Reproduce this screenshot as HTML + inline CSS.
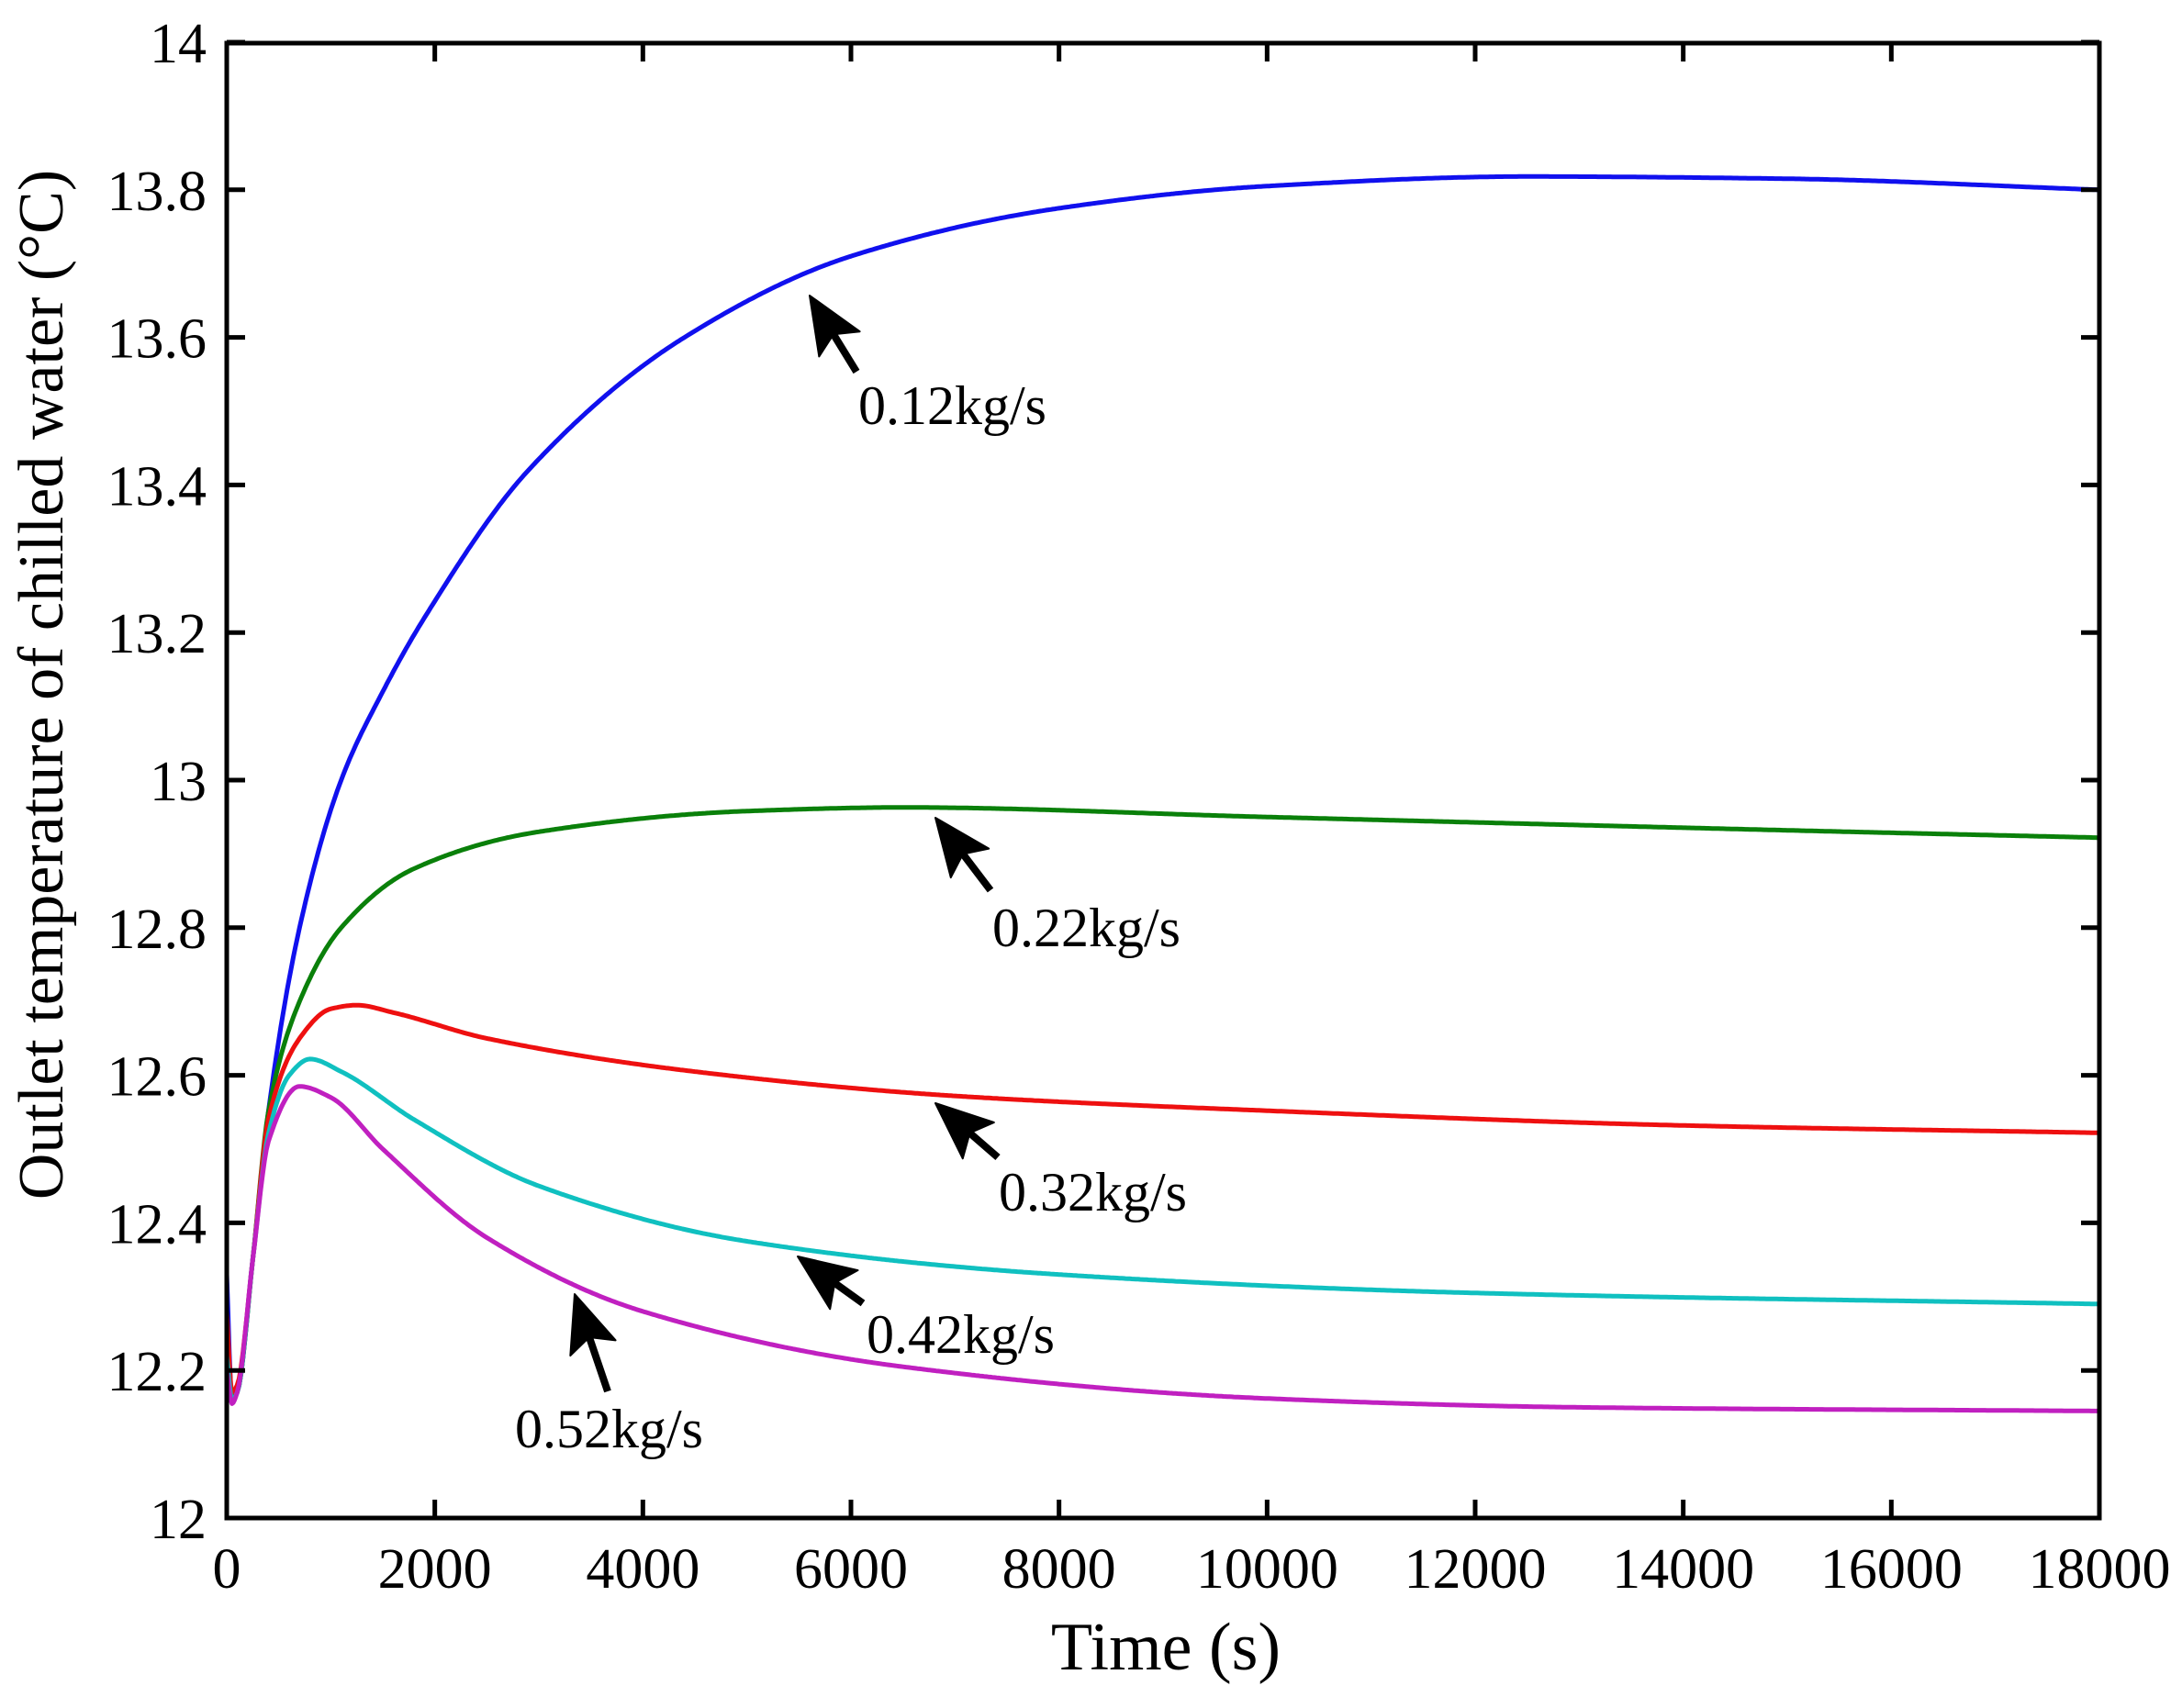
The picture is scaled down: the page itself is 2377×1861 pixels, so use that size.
<!DOCTYPE html>
<html><head><meta charset="utf-8"><style>
html,body{margin:0;padding:0;background:#fff}
svg{display:block}
text{font-family:"Liberation Serif",serif;fill:#000}
</style></head><body>
<svg id="s" width="2377" height="1861" viewBox="0 0 2377 1861" xmlns="http://www.w3.org/2000/svg">
<g id="curves" fill="none" stroke-width="5" stroke-linejoin="round"></g>
<rect x="247" y="47" width="2040" height="1607" fill="none" stroke="#000" stroke-width="5"/>
<g id="ticks" stroke="#000" stroke-width="5"></g>
<g id="labels" font-size="62"></g>
<g id="arrows" fill="#000" stroke="#000"></g>
<g font-size="60">
<text x="935" y="462">0.12kg/s</text>
<text x="1081" y="1031">0.22kg/s</text>
<text x="1088" y="1319">0.32kg/s</text>
<text x="944" y="1474">0.42kg/s</text>
<text x="561" y="1577">0.52kg/s</text>
</g>
<text x="1270" y="1819" font-size="74" text-anchor="middle">Time (s)</text>
<text transform="translate(68,746) rotate(-90)" font-size="70" text-anchor="middle">Outlet temperature of chilled water (°C)</text>
</svg>
<script>
var NS="http://www.w3.org/2000/svg";
function X(t){return 247+t/18000*2040}
function Y(v){return 1654-(v-12)*804}
function el(p,n,a){var e=document.createElementNS(NS,n);for(var k in a)e.setAttribute(k,a[k]);p.appendChild(e);return e}
function mono(pts){
 var n=pts.length,xs=pts.map(function(p){return p[0]}),ys=pts.map(function(p){return p[1]});
 var d=[],m=[];for(var i=0;i<n-1;i++)d.push((ys[i+1]-ys[i])/(xs[i+1]-xs[i]));
 m[0]=d[0];m[n-1]=d[n-2];
 for(var i=1;i<n-1;i++){ if(d[i-1]*d[i]<=0)m[i]=0; else {var w1=2*(xs[i+1]-xs[i])+(xs[i]-xs[i-1]),w2=(xs[i+1]-xs[i])+2*(xs[i]-xs[i-1]);m[i]=(w1+w2)/(w1/d[i-1]+w2/d[i]);}}
 var out=[];
 for(var i=0;i<n-1;i++){var h=xs[i+1]-xs[i],N=Math.max(4,Math.ceil(h/20));
  for(var k=0;k<N;k++){var s=k/N,s2=s*s,s3=s2*s;
   var y=(2*s3-3*s2+1)*ys[i]+(s3-2*s2+s)*h*m[i]+(-2*s3+3*s2)*ys[i+1]+(s3-s2)*h*m[i+1];
   out.push([xs[i]+s*h,y]);}}
 out.push([xs[n-1],ys[n-1]]);return out;}
var series=[
["#1010ee",[[0,12.33],[50,12.16],[100,12.17],[250,12.35],[400,12.55],[700,12.8],[1100,13.0],[1500,13.12],[1900,13.22],[2900,13.42],[4400,13.6],[6000,13.71],[8000,13.775],[10000,13.805],[12500,13.818],[15000,13.815],[18000,13.80]]],
["#0a800a",[[0,12.25],[50,12.16],[100,12.17],[250,12.35],[400,12.55],[700,12.7],[1100,12.8],[1800,12.88],[3000,12.93],[5000,12.958],[6500,12.963],[10000,12.95],[15000,12.932],[18000,12.922]]],
["#ee1010",[[0,12.28],[50,12.17],[100,12.18],[250,12.35],[400,12.54],[700,12.65],[1000,12.69],[1250,12.695],[1600,12.685],[2500,12.65],[4500,12.605],[7000,12.572],[10000,12.552],[14000,12.532],[18000,12.522]]],
["#10c0c0",[[0,12.22],[50,12.16],[100,12.17],[250,12.35],[400,12.52],[600,12.6],[800,12.622],[1100,12.605],[1800,12.54],[3000,12.45],[5000,12.375],[8000,12.33],[12000,12.305],[18000,12.29]]],
["#c020c0",[[0,12.20],[50,12.155],[100,12.17],[250,12.35],[400,12.51],[700,12.585],[1000,12.57],[1500,12.5],[2500,12.38],[4000,12.28],[6500,12.205],[10000,12.162],[13000,12.15],[18000,12.145]]]
];
var cg=document.getElementById("curves");
series.forEach(function(s){
 var p=mono(s[1]);
 el(cg,"polyline",{points:p.map(function(q){return X(q[0]).toFixed(1)+","+Y(q[1]).toFixed(1)}).join(" "),stroke:s[0]});
});
var tg=document.getElementById("ticks"),lg=document.getElementById("labels");
for(var t=0;t<=18000;t+=2000){var x=X(t);
 el(tg,"line",{x1:x,y1:1654,x2:x,y2:1634});el(tg,"line",{x1:x,y1:47,x2:x,y2:67});
 el(lg,"text",{x:x,y:1730,"text-anchor":"middle"}).textContent=t;}
var yl=["12","12.2","12.4","12.6","12.8","13","13.2","13.4","13.6","13.8","14"];
for(var i=0;i<=10;i++){var y=Y(12+i*0.2);
 el(tg,"line",{x1:247,y1:y,x2:267,y2:y});el(tg,"line",{x1:2287,y1:y,x2:2267,y2:y});
 el(lg,"text",{x:225,y:y+22,"text-anchor":"end"}).textContent=yl[i];}
var ag=document.getElementById("arrows");
[[882,322,933,405],[1019,891,1079,970],[1019,1202,1087,1261],[869,1369,940,1420],[626,1410,662,1516]].forEach(function(a){
 var dx=a[2]-a[0],dy=a[3]-a[1],L=Math.sqrt(dx*dx+dy*dy),ux=dx/L,uy=dy/L,hl=62,hw=26;
 var bx=a[0]+ux*hl,by=a[1]+uy*hl;
 el(ag,"line",{x1:a[0]+ux*hl*0.6,y1:a[1]+uy*hl*0.6,x2:a[2],y2:a[3],"stroke-width":8});
 el(ag,"polygon",{points:a[0]+","+a[1]+" "+(bx-uy*hw)+","+(by+ux*hw)+" "+(a[0]+ux*hl*0.8)+","+(a[1]+uy*hl*0.8)+" "+(bx+uy*hw)+","+(by-ux*hw),"stroke-width":2,"stroke-linejoin":"round"});
});
</script>
</body></html>
